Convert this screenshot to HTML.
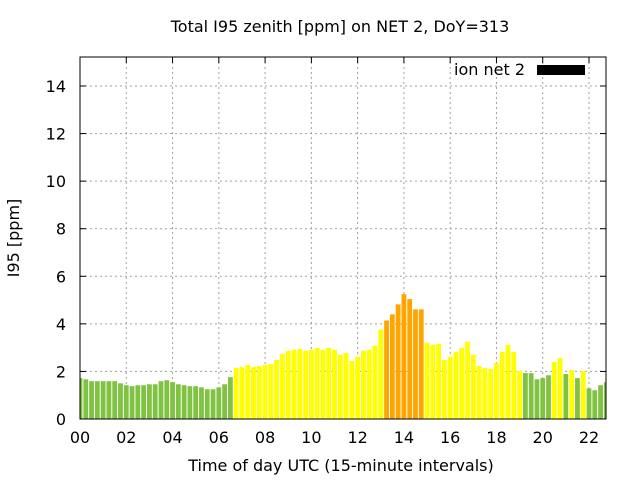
<!DOCTYPE html>
<html><head><meta charset="utf-8"><style>
body{margin:0;background:#fff;}
svg{font-family:"DejaVu Sans","Liberation Sans",sans-serif;}
</style></head><body>
<svg id="c" width="640" height="480" xmlns="http://www.w3.org/2000/svg"></svg>
<script>
const values=[1.72,1.67,1.59,1.59,1.59,1.59,1.59,1.50,1.42,1.38,1.42,1.42,1.46,1.46,1.59,1.63,1.55,1.46,1.42,1.38,1.38,1.33,1.25,1.25,1.33,1.46,1.76,
2.14,2.18,2.27,2.18,2.23,2.27,2.31,2.48,2.74,2.87,2.91,2.95,2.87,2.91,2.99,2.91,2.99,2.91,2.70,2.78,2.44,2.61,2.87,2.91,3.08,3.76,
4.14,4.40,4.82,5.25,5.04,4.61,4.61,3.21,3.12,3.16,2.48,2.61,2.82,2.99,3.25,2.70,2.23,2.14,2.10,2.35,2.82,3.12,2.82,2.02,
1.93,1.93,1.67,1.72,1.84,2.40,2.57,1.89,2.06,1.72,2.02,1.29,1.21,1.42,1.55];
const yTicks=[0,2,4,6,8,10,12,14];
const xTickLabels=["00","02","04","06","08","10","12","14","16","18","20","22"];
const L=80,R=606,T=57,B=419;
const sx=h=>L+h*(589-L)/22;
const sy=v=>B-v*(B-86)/14;
const svg=document.getElementById('c');
const NS="http://www.w3.org/2000/svg";
function mk(t,a,p){const e=document.createElementNS(NS,t);for(const k in a)e.setAttribute(k,a[k]);(p||svg).appendChild(e);return e;}
const defs=mk('defs',{});const cp=mk('clipPath',{id:'pc'},defs);mk('rect',{x:L,y:T,width:R-L,height:B-T},cp);
yTicks.forEach(v=>{const y=sy(v);
 if(v>0){const g=mk('line',{x1:L,x2:R,y1:y,y2:y,stroke:'#a0a0a0','stroke-dasharray':'2,3'});}
 mk('line',{x1:L,x2:L+6,y1:y,y2:y,stroke:'#000'});mk('line',{x1:R,x2:R-6,y1:y,y2:y,stroke:'#000'});
 const t=mk('text',{x:L-14,y:y+6,'text-anchor':'end','font-size':16});t.textContent=v;
 });
xTickLabels.forEach((s,i)=>{const x=sx(i*2);
 if(i>0){const g=mk('line',{x1:x,x2:x,y1:T,y2:B,stroke:'#a0a0a0','stroke-dasharray':'2,3'});}
 mk('line',{x1:x,x2:x,y1:B,y2:B-6,stroke:'#000'});mk('line',{x1:x,x2:x,y1:T,y2:T+6,stroke:'#000'});
 const t=mk('text',{x:x,y:443,'text-anchor':'middle','font-size':16});t.textContent=s;
 });
const gb=mk('g',{'clip-path':'url(#pc)'});
const w=(589-L)/88;
values.forEach((v,i)=>{const cx=L+i*w;const col=v<2?'#80c342':(v<4?'#ffff00':'#ffa500');
 const r=mk('rect',{x:cx-2.4,y:sy(v),width:4.8,height:B-sy(v),fill:col},gb);
 });
const fr=mk('rect',{x:L,y:T,width:R-L,height:B-T,fill:'none',stroke:'#000','stroke-width':1});

let t=mk('text',{x:340,y:32,'text-anchor':'middle','font-size':16});t.textContent='Total I95 zenith [ppm] on NET 2, DoY=313';

t=mk('text',{x:341,y:471,'text-anchor':'middle','font-size':16});t.textContent='Time of day UTC (15-minute intervals)';

t=mk('text',{x:19,y:238,'text-anchor':'middle','font-size':16,transform:'rotate(-90 19 238)'});t.textContent='I95 [ppm]';

t=mk('text',{x:525,y:75,'text-anchor':'end','font-size':16});t.textContent='ion net 2';

const lr=mk('rect',{x:537,y:65,width:48,height:10,fill:'#000'});

</script>
</body></html>
